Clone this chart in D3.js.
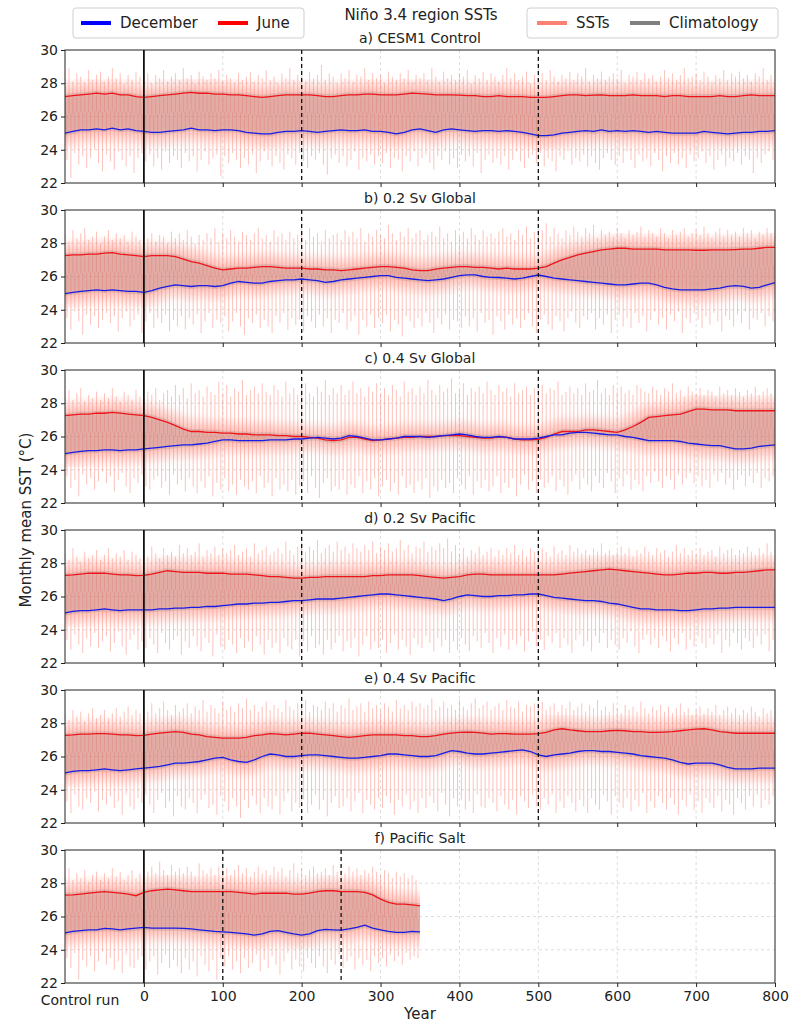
<!DOCTYPE html>
<html>
<head>
<meta charset="utf-8">
<script src="https://cdn.jsdelivr.net/npm/d3@7"></script>
<style>
  body { margin: 0; background: #fff; }
  svg { display: block; }
  text { font-family: "DejaVu Sans", sans-serif; fill: #222; }
</style>
</head>
<body>
<svg id="chart" width="802" height="1024"></svg>
<script>
// ---- Time axes (model years; negative years = control run) ----
const years10 = d3.range(-100, 801, 10);   // climatology sampling
const years5 = d3.range(-100, 800, 5);     // SST extreme sampling

const panelTitles = ["a) CESM1 Control", "b) 0.2 Sv Global", "c) 0.4 Sv Global",
                     "d) 0.2 Sv Pacific", "e) 0.4 Sv Pacific", "f) Pacific Salt"];
const yTickValues = [22, 24, 26, 28, 30];
const xTickValues = [0, 100, 200, 300, 400, 500, 600, 700, 800];
const xGridValues = [100, 200, 300, 400, 500, 600, 700];

// Event markers: first = start of hosing (solid), rest = dashed
const marksA = [0, 200, 500], marksB = [0, 200, 500], marksC = [0, 200, 500];
const marksD = [0, 200, 500], marksE = [0, 200, 500], marksF = [0, 100, 250];

// ---- a) CESM1 Control ----
const junA = [27.2,27.25,27.3,27.35,27.4,27.35,27.4,27.3,27.3,27.2,
  27.15,27.2,27.25,27.3,27.35,27.4,27.45,27.4,27.4,27.35,
  27.35,27.3,27.3,27.25,27.2,27.15,27.2,27.25,27.3,27.3,
  27.3,27.3,27.25,27.2,27.2,27.25,27.3,27.3,27.35,27.35,
  27.3,27.3,27.3,27.35,27.4,27.38,27.35,27.3,27.3,27.3,
  27.28,27.25,27.25,27.2,27.2,27.25,27.2,27.2,27.2,27.15,
  27.15,27.15,27.2,27.25,27.3,27.3,27.25,27.28,27.3,27.25,
  27.25,27.25,27.3,27.25,27.25,27.25,27.2,27.25,27.25,27.2,
  27.2,27.2,27.2,27.25,27.2,27.2,27.25,27.3,27.25,27.25,
  27.25];
const decA = [25.0,25.1,25.2,25.2,25.25,25.2,25.3,25.2,25.25,25.15,
  25.1,25.05,25.05,25.1,25.15,25.2,25.3,25.2,25.2,25.15,
  25.2,25.2,25.15,25.05,25.0,24.95,24.95,25.05,25.1,25.1,
  25.15,25.1,25.05,25.1,25.15,25.2,25.15,25.15,25.2,25.1,
  25.1,25.05,24.95,25.05,25.2,25.25,25.15,25.05,25.2,25.25,
  25.2,25.15,25.1,25.15,25.15,25.1,25.15,25.1,25.05,24.95,
  24.85,24.85,24.9,25.0,25.05,25.1,25.15,25.1,25.2,25.1,
  25.15,25.1,25.15,25.1,25.05,25.1,25.05,25.0,25.0,25.0,
  25.0,25.1,25.05,25.0,24.95,25.0,25.05,25.05,25.1,25.1,
  25.15];
const hiA = [28.3,28.9,28.1,28.6,28.4,28.0,28.8,28.2,28.5,28.7,
  28.1,28.4,28.9,28.3,28.6,28.0,28.5,28.2,28.7,28.4,
  28.2,28.6,28.0,28.5,28.3,28.8,28.1,28.4,28.6,28.2,
  28.9,28.3,28.5,28.0,28.7,28.4,28.2,28.6,28.3,28.8,
  28.1,28.5,28.3,28.0,28.6,28.2,28.4,28.7,28.1,28.5,
  28.3,28.8,28.2,28.4,28.0,28.6,28.3,28.9,28.2,28.5,
  28.4,28.1,28.7,28.3,28.5,29.1,28.2,28.6,28.4,28.0,
  28.6,28.3,28.8,28.1,28.5,28.4,28.9,28.2,28.6,28.3,
  28.5,28.0,28.7,28.4,28.2,28.6,28.3,28.8,28.1,28.5,
  28.3,28.6,28.2,28.9,28.4,28.1,28.7,28.3,28.5,28.2,
  28.6,28.4,28.8,28.0,28.5,28.3,28.7,28.2,28.6,28.4,
  28.1,28.5,28.9,28.3,28.6,28.2,28.4,28.7,28.0,28.5,
  28.3,28.6,28.2,28.8,28.4,28.1,28.5,28.3,28.7,28.2,
  28.6,28.4,28.9,28.1,28.5,28.3,28.7,28.2,28.4,28.6,
  28.3,28.8,28.0,28.5,28.4,28.7,28.2,28.6,28.3,28.5,
  28.1,28.4,28.8,28.3,28.6,28.2,28.5,28.9,28.3,28.4,
  28.6,28.2,28.7,28.4,28.1,28.5,28.3,28.8,28.2,28.6,
  28.4,28.7,28.3,28.5,28.1,28.6,28.4,28.9,28.2,28.5];
const loA = [23.4,22.3,23.8,23.1,23.6,22.9,23.5,24.0,23.2,22.7,
  23.7,23.3,22.8,23.9,23.4,23.0,23.6,22.6,23.5,23.8,
  23.3,23.7,23.0,23.5,22.8,23.9,23.2,23.6,23.4,22.9,
  23.8,23.3,23.6,22.7,23.4,23.9,23.1,23.5,23.7,22.4,
  23.6,23.2,23.8,23.4,22.9,23.5,23.1,23.7,22.6,23.3,
  23.9,23.4,23.0,23.6,23.2,22.8,23.7,23.5,23.1,23.8,
  23.3,22.9,23.6,23.4,23.8,23.1,22.5,23.5,23.7,23.2,
  23.6,23.0,23.4,23.9,22.8,23.5,23.3,23.7,23.1,23.6,
  23.2,23.8,22.9,23.5,23.4,22.7,23.6,23.3,23.9,23.0,
  23.5,23.7,23.2,22.8,23.6,23.4,23.9,23.1,23.5,22.9,
  23.7,23.3,23.6,23.0,23.8,22.6,23.4,23.7,23.2,23.5,
  23.1,23.6,22.8,23.4,23.9,23.3,22.9,23.5,23.7,23.2,
  23.8,23.0,23.5,23.3,22.7,23.6,23.4,23.9,23.1,23.5,
  23.3,23.7,23.0,23.6,23.2,22.8,23.5,23.8,23.4,23.1,
  23.6,23.2,23.9,23.4,22.9,23.7,23.3,23.5,23.0,23.8,
  23.4,22.7,23.6,23.2,23.8,23.1,23.5,22.9,23.7,23.3,
  23.5,23.9,23.2,23.6,22.8,23.4,23.7,23.0,23.5,23.3,
  23.8,23.1,23.6,23.4,22.6,23.5,23.2,23.7,23.9,23.4];

// ---- b) 0.2 Sv Global ----
const junB = [27.25,27.3,27.3,27.35,27.35,27.4,27.43,27.35,27.3,27.25,
  27.2,27.25,27.25,27.25,27.2,27.05,26.9,26.8,26.65,26.5,
  26.4,26.45,26.5,26.5,26.55,26.6,26.6,26.55,26.5,26.5,
  26.5,26.45,26.45,26.4,26.4,26.35,26.4,26.45,26.5,26.55,
  26.6,26.6,26.55,26.5,26.4,26.35,26.35,26.45,26.5,26.55,
  26.6,26.6,26.55,26.55,26.5,26.45,26.5,26.45,26.45,26.45,
  26.5,26.6,26.8,27.0,27.15,27.3,27.4,27.5,27.6,27.65,
  27.7,27.7,27.65,27.65,27.65,27.65,27.6,27.6,27.6,27.6,
  27.58,27.58,27.6,27.6,27.6,27.62,27.65,27.65,27.7,27.75,
  27.75];
const decB = [24.97,25.05,25.1,25.15,25.2,25.15,25.2,25.15,25.1,25.1,
  25.05,25.15,25.3,25.4,25.5,25.45,25.4,25.45,25.45,25.4,
  25.45,25.6,25.7,25.65,25.6,25.6,25.7,25.75,25.8,25.8,
  25.85,25.8,25.75,25.65,25.7,25.8,25.85,25.9,25.95,26.0,
  26.05,26.05,25.95,25.9,25.85,25.8,25.75,25.8,25.85,25.95,
  26.05,26.1,26.1,26.0,25.95,25.94,25.9,25.85,25.9,26.0,
  26.09,26.0,25.9,25.85,25.8,25.75,25.7,25.65,25.6,25.55,
  25.5,25.5,25.55,25.6,25.6,25.5,25.35,25.25,25.2,25.2,
  25.2,25.2,25.25,25.3,25.4,25.45,25.4,25.3,25.35,25.5,
  25.63];
const hiB = [28.5,28.1,28.8,28.3,28.6,28.9,28.2,28.4,28.7,28.0,
  28.4,28.8,28.2,28.6,28.3,28.5,28.1,28.7,28.4,28.2,
  28.9,28.3,28.6,28.1,28.5,28.4,28.0,28.7,28.3,28.6,
  28.2,28.8,28.4,28.0,28.5,28.2,28.6,28.3,28.9,28.1,
  28.6,28.3,28.8,28.4,28.1,28.7,28.5,28.2,28.6,28.9,
  28.3,28.5,28.1,28.8,28.4,28.6,28.2,28.7,28.3,28.5,
  28.7,28.2,28.9,28.4,28.6,28.1,28.8,28.3,28.5,28.6,
  28.2,28.8,28.4,28.7,28.3,28.9,28.1,28.6,28.4,28.8,
  28.5,28.3,29.1,28.6,28.2,28.7,28.4,28.9,28.3,28.6,
  28.8,28.2,28.5,28.7,28.4,29.0,28.3,28.6,28.1,28.8,
  28.4,28.7,28.3,28.9,28.5,28.2,28.8,28.4,28.6,28.3,
  28.7,28.9,28.4,28.6,28.2,28.8,28.5,29.0,28.3,28.7,
  28.5,28.8,29.2,28.4,28.9,28.6,28.3,28.8,28.5,29.0,
  28.7,28.4,28.9,28.6,29.1,28.3,28.8,28.5,28.7,28.4,
  28.9,28.6,28.3,28.8,28.5,28.7,29.0,28.4,28.8,28.6,
  28.4,28.9,28.6,28.3,28.8,28.5,28.7,28.9,28.4,28.6,
  28.8,28.5,29.0,28.6,28.3,28.7,28.9,28.4,28.8,28.5,
  28.7,28.4,28.9,28.6,28.8,28.3,28.7,28.5,28.9,28.6];
const loB = [23.5,22.8,23.9,23.3,22.5,23.7,23.1,23.6,22.9,23.4,
  23.8,23.2,23.6,22.7,23.5,23.9,23.0,23.4,23.7,22.6,
  23.3,23.8,22.9,23.5,23.2,23.7,22.7,23.4,23.0,23.6,
  22.8,23.5,23.1,23.7,22.6,23.3,23.8,22.9,23.4,23.2,
  23.6,22.7,23.3,23.8,23.0,22.5,23.5,23.2,23.7,22.9,
  23.4,23.0,22.6,23.6,23.2,23.8,22.8,23.5,23.1,23.4,
  22.7,23.6,23.3,22.9,23.7,23.0,23.5,22.6,23.4,23.2,
  23.8,22.8,23.3,23.6,22.5,23.4,23.0,23.7,22.9,23.5,
  23.2,23.7,22.7,23.4,23.1,22.4,23.6,23.3,22.9,23.5,
  23.0,23.8,23.2,22.6,23.5,23.1,23.7,22.8,23.4,23.3,
  22.9,23.6,23.0,23.5,22.7,23.8,23.2,23.4,22.5,23.6,
  23.3,22.8,23.7,23.1,23.5,22.9,23.4,23.8,23.0,22.6,
  23.4,23.7,23.1,22.8,23.6,23.3,22.7,23.5,23.9,23.2,
  22.9,23.6,23.4,23.8,22.8,23.5,23.1,23.7,22.6,23.4,
  23.7,23.0,23.5,22.9,23.8,23.2,23.6,22.7,23.4,23.9,
  23.1,23.5,22.8,23.7,23.3,23.9,22.6,23.5,23.2,23.8,
  23.4,22.9,23.6,23.1,23.8,23.3,22.7,23.6,23.4,23.0,
  23.7,23.2,23.9,22.8,23.5,23.4,23.8,23.0,23.6,23.3];

// ---- c) 0.4 Sv Global ----
const junC = [27.25,27.3,27.35,27.35,27.4,27.4,27.45,27.4,27.35,27.3,
  27.25,27.15,27.0,26.85,26.65,26.45,26.3,26.3,26.25,26.25,
  26.2,26.2,26.15,26.15,26.1,26.1,26.1,26.05,26.05,26.0,
  26.0,25.95,25.9,25.8,25.75,25.8,25.95,25.95,25.85,25.75,
  25.8,25.85,25.9,25.95,25.95,26.0,26.0,26.0,26.05,26.05,
  26.05,26.0,25.95,25.9,25.9,25.98,25.95,25.85,25.8,25.8,
  25.83,25.95,26.15,26.3,26.3,26.3,26.4,26.4,26.35,26.3,
  26.25,26.4,26.6,26.85,27.15,27.2,27.25,27.3,27.35,27.5,
  27.65,27.65,27.6,27.6,27.6,27.55,27.55,27.55,27.55,27.55,
  27.55];
const decC = [24.97,25.05,25.1,25.15,25.15,25.2,25.2,25.15,25.2,25.2,
  25.25,25.3,25.35,25.4,25.45,25.5,25.5,25.55,25.6,25.7,
  25.8,25.8,25.75,25.75,25.75,25.75,25.8,25.8,25.8,25.85,
  25.85,25.9,25.95,25.9,25.85,25.9,26.05,26.0,25.9,25.8,
  25.8,25.85,25.9,26.0,26.0,26.0,25.95,26.0,26.05,26.1,
  26.15,26.1,26.0,25.95,25.95,26.0,25.95,25.85,25.85,25.85,
  25.9,26.0,26.1,26.1,26.2,26.25,26.25,26.2,26.15,26.1,
  26.1,26.0,25.95,25.85,25.75,25.75,25.75,25.75,25.7,25.6,
  25.55,25.5,25.45,25.45,25.35,25.25,25.25,25.3,25.4,25.45,
  25.5];
const hiC = [28.4,28.8,28.2,28.6,28.9,28.1,28.5,28.3,28.7,28.2,
  28.6,28.3,28.9,28.4,28.1,28.7,28.5,28.2,28.8,28.4,
  28.3,28.7,28.5,28.9,28.2,28.6,28.8,28.4,29.1,28.5,
  28.9,28.3,29.2,28.6,28.8,28.4,29.0,28.7,28.5,29.3,
  28.6,29.1,28.4,28.9,28.7,29.4,28.5,28.8,29.0,28.6,
  29.2,28.7,28.5,29.1,28.8,28.4,29.3,28.6,28.9,28.5,
  28.8,29.2,28.6,28.4,29.0,28.7,29.4,28.5,28.9,28.6,
  29.1,28.5,28.8,29.3,28.6,28.9,28.4,29.0,28.7,29.2,
  28.6,28.9,28.5,29.1,28.8,28.4,29.3,28.7,28.9,28.5,
  29.0,28.6,29.4,28.8,28.5,29.1,28.7,28.9,29.5,28.6,
  28.8,29.2,28.5,28.9,28.7,29.0,28.6,29.3,28.8,28.5,
  29.1,28.7,28.9,28.4,29.2,28.6,28.8,29.0,28.5,28.9,
  28.7,29.1,28.6,28.9,28.8,29.3,28.5,28.7,29.0,28.6,
  28.9,28.5,29.2,28.7,28.8,29.4,28.6,28.9,28.5,29.1,
  28.7,29.0,28.6,28.8,28.5,29.1,28.9,28.7,28.6,29.0,
  28.8,28.5,28.9,28.7,29.2,28.6,28.8,28.4,29.0,28.7,
  28.6,28.9,28.5,28.8,28.7,28.4,29.0,28.6,28.8,28.5,
  28.9,28.7,28.4,28.8,28.6,29.0,28.5,28.7,28.9,28.6];
const loC = [23.6,22.9,23.4,22.4,23.7,23.1,23.5,22.8,23.3,23.9,
  23.2,23.6,22.7,23.4,23.8,23.0,22.6,23.5,23.2,23.7,
  23.0,22.8,23.4,23.6,22.9,23.3,22.5,23.7,23.1,23.4,
  22.7,23.5,23.0,22.6,23.3,22.9,23.6,22.4,23.2,22.8,
  23.5,22.7,23.1,22.5,23.4,23.0,22.8,23.3,22.6,23.6,
  22.9,23.2,22.4,23.5,22.8,23.1,22.7,23.4,22.5,23.0,
  23.3,22.6,23.6,22.9,22.3,23.2,23.5,22.7,23.0,22.8,
  23.4,22.5,23.1,22.9,23.6,22.6,23.3,22.8,23.5,22.4,
  23.0,23.4,22.7,23.2,22.5,23.6,22.9,23.1,22.6,23.3,
  22.8,23.5,22.3,23.0,22.7,23.4,22.9,23.2,22.6,23.5,
  23.1,22.8,23.6,22.5,23.3,22.9,23.4,22.7,23.0,23.6,
  22.6,23.2,22.9,23.5,22.4,23.1,23.7,22.8,23.3,22.6,
  23.4,22.9,23.2,23.6,22.7,23.4,23.0,22.5,23.3,23.7,
  22.8,23.5,23.1,22.7,23.6,23.2,22.9,23.8,23.3,22.6,
  23.5,23.0,23.7,22.8,23.4,23.1,22.7,23.6,23.2,23.9,
  23.3,22.9,23.6,23.4,22.8,23.7,23.1,23.5,23.8,23.2,
  23.6,23.0,23.4,22.9,23.7,23.3,23.8,23.1,23.5,22.8,
  23.4,23.7,23.0,23.6,23.2,23.8,22.9,23.5,23.3,23.6];

// ---- d) 0.2 Sv Pacific ----
const junD = [27.27,27.3,27.35,27.4,27.4,27.4,27.35,27.3,27.3,27.25,
  27.27,27.35,27.45,27.55,27.5,27.45,27.45,27.45,27.4,27.4,
  27.4,27.35,27.35,27.35,27.3,27.25,27.2,27.2,27.15,27.1,
  27.1,27.15,27.15,27.2,27.2,27.2,27.2,27.2,27.2,27.25,
  27.25,27.3,27.3,27.3,27.3,27.25,27.2,27.15,27.1,27.15,
  27.2,27.3,27.35,27.35,27.3,27.3,27.3,27.3,27.3,27.3,
  27.3,27.3,27.3,27.35,27.4,27.45,27.5,27.55,27.6,27.65,
  27.6,27.55,27.5,27.45,27.4,27.35,27.3,27.3,27.35,27.4,
  27.4,27.45,27.45,27.4,27.4,27.45,27.45,27.5,27.55,27.6,
  27.6];
const decD = [25.01,25.1,25.15,25.15,25.2,25.25,25.2,25.15,25.2,25.2,
  25.2,25.2,25.25,25.25,25.3,25.3,25.35,25.35,25.4,25.4,
  25.45,25.5,25.55,25.55,25.6,25.6,25.65,25.65,25.7,25.75,
  25.75,25.8,25.85,25.85,25.85,25.9,25.95,26.0,26.05,26.1,
  26.15,26.15,26.1,26.05,26.0,25.95,25.9,25.85,25.75,25.85,
  26.0,26.1,26.05,26.0,26.0,26.05,26.05,26.1,26.1,26.15,
  26.15,26.05,25.95,25.9,25.85,25.8,25.75,25.75,25.7,25.6,
  25.55,25.45,25.35,25.25,25.25,25.2,25.2,25.2,25.15,25.15,
  25.2,25.25,25.25,25.3,25.3,25.35,25.35,25.35,25.35,25.35,
  25.35];
const hiD = [28.6,28.2,28.9,28.4,28.1,28.7,28.3,28.5,28.8,28.2,
  28.5,28.9,28.3,28.6,28.4,28.8,28.2,28.7,28.5,28.3,
  28.8,28.4,29.0,28.6,28.3,28.9,28.5,28.7,28.4,29.1,
  28.6,28.9,28.5,28.7,29.2,28.4,28.8,28.6,29.0,28.5,
  28.9,28.6,28.8,29.1,28.5,28.7,28.9,28.4,29.2,28.6,
  28.8,29.0,28.5,28.7,28.9,28.6,29.3,28.8,28.5,29.0,
  29.2,28.7,29.0,28.8,29.4,28.6,28.9,29.1,28.7,29.3,
  28.8,29.0,28.6,29.2,28.9,28.7,29.1,28.8,29.3,28.6,
  29.0,28.8,29.2,28.7,28.9,29.4,28.8,29.1,28.6,29.0,
  28.9,29.3,28.7,29.0,28.8,29.2,28.9,29.5,28.7,29.1,
  28.6,28.9,28.4,28.8,28.6,29.0,28.5,28.7,28.9,28.4,
  28.8,28.5,28.9,28.6,29.1,28.5,28.8,28.4,28.9,28.7,
  28.5,28.9,28.7,28.4,29.0,28.6,28.8,28.5,29.1,28.7,
  28.9,28.6,28.8,28.5,28.9,28.7,29.2,28.6,28.8,28.5,
  28.7,29.0,28.6,28.9,28.4,28.8,28.6,29.0,28.7,28.5,
  28.9,28.6,28.8,28.4,28.7,29.1,28.6,28.9,28.5,28.8,
  28.6,28.9,28.5,28.7,28.8,28.4,29.0,28.6,28.8,28.9,
  28.5,28.8,28.6,29.0,28.7,28.5,28.9,28.6,29.2,28.7];
const loD = [23.4,22.8,23.7,23.1,22.6,23.5,23.0,23.8,22.9,23.3,
  23.6,22.7,23.2,23.9,23.0,22.5,23.4,23.7,22.8,23.3,
  22.9,23.5,23.1,22.6,23.8,23.2,22.8,23.4,23.6,22.5,
  23.3,22.9,23.6,23.0,22.7,23.5,23.2,22.4,23.7,23.0,
  22.8,23.4,23.1,22.6,23.5,22.9,23.3,22.7,23.6,23.1,
  22.5,23.4,22.9,23.2,22.6,23.5,23.0,22.8,23.4,22.4,
  23.3,22.7,23.6,22.9,23.1,22.5,23.4,22.8,23.2,23.6,
  22.7,23.3,22.9,23.5,22.4,23.1,23.6,22.8,23.3,22.9,
  23.4,22.6,23.2,23.7,22.8,23.4,23.0,22.5,23.5,23.1,
  22.9,23.6,23.2,22.7,23.5,23.0,23.4,22.6,23.3,22.8,
  23.5,23.1,22.7,23.6,23.3,22.9,23.8,23.2,22.6,23.5,
  23.0,23.7,22.8,23.4,23.1,23.6,22.7,23.3,23.9,23.0,
  23.4,22.8,23.6,23.2,23.8,22.9,23.5,23.1,22.6,23.4,
  23.7,23.0,23.3,22.7,23.6,23.2,23.8,22.9,23.4,23.1,
  22.8,23.5,23.2,23.9,23.0,22.6,23.4,23.7,23.1,23.5,
  22.9,23.6,23.3,22.7,23.5,23.1,23.8,22.8,23.4,23.0,
  23.6,23.2,22.9,23.5,23.1,23.7,22.6,23.4,23.0,23.8,
  23.2,22.8,23.5,23.3,22.9,23.6,23.1,23.7,22.7,23.4];

// ---- e) 0.4 Sv Pacific ----
const junE = [27.27,27.3,27.35,27.35,27.37,27.37,27.35,27.3,27.3,27.25,
  27.27,27.35,27.4,27.45,27.5,27.45,27.35,27.3,27.2,27.15,
  27.1,27.1,27.1,27.15,27.25,27.3,27.37,27.35,27.3,27.35,
  27.4,27.4,27.35,27.3,27.25,27.2,27.15,27.2,27.25,27.3,
  27.3,27.3,27.3,27.25,27.25,27.2,27.2,27.25,27.35,27.4,
  27.45,27.47,27.45,27.4,27.35,27.37,27.37,27.35,27.35,27.35,
  27.37,27.45,27.6,27.67,27.6,27.55,27.5,27.5,27.5,27.55,
  27.57,27.55,27.5,27.5,27.45,27.45,27.47,27.5,27.55,27.6,
  27.65,27.67,27.6,27.5,27.45,27.4,27.4,27.4,27.4,27.4,
  27.4];
const decE = [25.01,25.1,25.15,25.15,25.2,25.25,25.2,25.15,25.2,25.25,
  25.3,25.35,25.4,25.5,25.6,25.6,25.65,25.7,25.8,25.9,
  25.95,25.8,25.7,25.65,25.8,26.0,26.15,26.1,26.0,26.0,
  26.05,26.1,26.1,26.05,26.0,25.95,25.9,25.9,25.95,26.0,
  26.05,26.15,26.15,26.1,26.05,26.0,26.0,26.05,26.2,26.35,
  26.3,26.2,26.15,26.15,26.2,26.25,26.3,26.35,26.4,26.3,
  26.1,26.0,26.1,26.15,26.2,26.3,26.35,26.35,26.3,26.3,
  26.25,26.2,26.15,26.05,26.0,25.95,25.9,25.8,25.65,25.55,
  25.6,25.6,25.6,25.5,25.35,25.25,25.25,25.25,25.3,25.3,
  25.3];
const hiE = [28.5,28.2,28.8,28.4,28.7,28.1,28.6,28.9,28.3,28.5,
  28.8,28.3,28.6,28.9,28.4,28.7,29.0,28.5,28.8,28.6,
  29.0,28.7,29.2,28.6,28.9,29.3,28.8,28.5,29.1,28.7,
  28.9,29.2,28.6,29.0,28.8,29.4,28.7,29.1,28.9,28.6,
  29.3,28.8,29.0,28.7,29.2,28.9,29.5,28.8,29.1,28.7,
  29.0,29.3,28.8,29.1,28.9,28.7,29.4,29.0,28.8,29.2,
  28.9,29.4,28.7,29.1,29.0,28.8,29.3,28.9,29.2,28.7,
  29.1,28.9,29.5,28.8,29.0,29.2,28.7,29.3,28.9,29.1,
  28.8,29.2,29.0,28.7,29.4,28.9,29.1,28.8,29.3,29.0,
  29.2,28.9,29.1,29.5,28.8,29.0,29.3,28.9,29.1,28.8,
  29.4,29.0,28.8,29.2,29.5,28.9,29.1,29.3,28.8,29.0,
  29.2,28.8,29.4,29.0,28.9,29.3,28.7,29.1,29.0,29.2,
  28.9,29.3,28.8,29.0,29.2,28.7,29.1,28.9,29.3,28.8,
  29.0,29.2,28.7,29.1,28.9,29.4,28.8,29.0,28.7,29.2,
  28.9,28.6,29.1,28.8,29.0,28.7,29.3,28.9,28.6,29.0,
  28.8,29.1,28.7,29.0,28.6,28.9,29.2,28.7,28.9,28.5,
  28.8,29.0,28.6,28.9,28.7,29.1,28.5,28.8,29.0,28.6,
  28.9,28.5,28.8,28.6,29.0,28.7,28.4,28.9,28.6,28.8];
const loE = [23.3,22.6,23.7,23.0,22.8,23.5,23.2,23.9,22.7,23.4,
  23.1,23.6,22.9,23.3,22.5,23.7,23.0,22.8,23.5,23.2,
  23.7,23.1,22.6,23.4,23.8,22.9,23.3,22.4,23.6,23.0,
  22.8,23.5,23.2,22.6,23.4,23.7,22.9,23.1,22.5,23.6,
  23.3,22.7,23.5,23.0,22.3,23.4,22.9,23.6,23.1,22.6,
  23.5,23.0,22.8,23.6,22.5,23.3,23.8,22.7,23.2,22.9,
  23.4,22.6,23.1,23.7,22.8,23.4,22.4,23.2,23.6,22.9,
  23.0,23.5,22.7,23.3,23.8,22.6,23.4,23.1,22.8,23.5,
  22.9,23.6,23.2,22.5,23.4,23.0,23.7,22.8,23.3,22.6,
  23.5,22.9,23.6,23.2,22.7,23.8,23.1,22.4,23.5,23.0,
  23.4,22.8,23.3,22.6,23.7,23.0,22.9,23.5,23.2,22.7,
  23.6,23.1,22.8,23.4,22.5,23.6,23.3,22.9,23.7,23.0,
  22.8,23.5,23.1,23.7,22.6,23.3,22.9,23.6,23.2,22.7,
  23.4,23.0,22.6,23.5,23.1,22.8,23.7,23.3,22.5,23.6,
  23.2,22.9,23.5,22.7,23.4,23.0,23.8,22.6,23.3,22.9,
  23.6,23.2,22.8,23.5,23.1,22.5,23.4,23.0,23.7,22.8,
  23.3,22.6,23.5,23.2,22.9,23.6,22.7,23.4,23.1,22.5,
  23.5,23.2,22.8,23.6,23.0,23.7,22.9,23.4,23.1,23.6];

// ---- f) Pacific Salt (run ends at year 350) ----
const junF = [27.29,27.3,27.35,27.4,27.45,27.5,27.45,27.4,27.35,27.25,
  27.45,27.55,27.6,27.65,27.6,27.55,27.5,27.5,27.5,27.5,
  27.5,27.5,27.45,27.4,27.35,27.4,27.4,27.4,27.4,27.35,
  27.35,27.4,27.5,27.55,27.55,27.5,27.5,27.5,27.45,27.3,
  27.05,26.85,26.75,26.75,26.7,26.64];
const decF = [25.02,25.1,25.15,25.2,25.2,25.28,25.25,25.2,25.25,25.3,
  25.34,25.3,25.3,25.3,25.3,25.28,25.25,25.2,25.15,25.1,
  25.08,25.05,25.0,24.95,24.88,24.95,25.1,25.15,25.05,24.95,
  24.88,24.95,25.15,25.22,25.2,25.18,25.25,25.35,25.48,25.3,
  25.2,25.1,25.05,25.05,25.1,25.08];
const hiF = [28.4,28.9,28.2,28.6,28.3,28.8,28.1,28.5,28.7,28.2,
  28.6,28.3,28.9,28.4,28.7,28.2,28.5,28.8,28.3,28.6,
  29.2,28.7,29.0,28.6,29.3,28.8,28.5,29.1,28.7,28.9,
  28.6,29.0,28.7,28.4,29.2,28.8,28.6,28.9,28.5,29.0,
  28.7,28.9,28.5,28.8,29.1,28.6,28.9,28.4,28.7,29.0,
  28.6,28.8,28.5,29.0,28.7,28.9,28.4,28.8,29.2,28.6,
  28.9,28.5,28.8,29.0,28.6,28.7,28.9,28.5,29.1,28.7,
  28.8,28.6,29.0,28.7,28.9,28.5,28.8,28.6,29.0,28.7,
  28.5,28.8,28.6,28.3,28.7,28.4,28.6,28.3,28.5,28.2];
const loF = [23.5,22.9,23.8,22.2,23.4,23.0,23.6,22.7,23.3,23.9,
  23.1,23.5,22.8,23.3,22.6,23.7,23.0,22.9,23.4,23.6,
  22.8,23.3,23.6,22.5,23.2,23.7,22.9,23.4,23.0,22.6,
  23.5,22.8,23.3,22.4,23.6,23.1,22.7,23.4,22.2,23.5,
  23.0,23.6,22.8,23.3,22.6,23.5,22.9,23.2,23.7,22.7,
  23.4,22.9,23.6,23.1,22.5,23.3,23.8,22.8,23.4,23.0,
  22.7,23.5,23.2,22.9,23.6,23.0,22.6,23.4,23.1,23.7,
  22.9,23.3,23.6,22.8,23.5,23.1,23.4,22.7,23.6,23.2,
  23.5,23.0,23.7,23.3,23.6,23.1,23.8,23.4,23.6,23.5];

// ---- Colours ----
const SALMON = "#fa8072", GREY = "#808080", RED = "#f0141a", BLUE = "#1a1ae6";

const panels = [
  { title: panelTitles[0], jun: junA, dec: decA, hi: hiA, lo: loA, marks: marksA },
  { title: panelTitles[1], jun: junB, dec: decB, hi: hiB, lo: loB, marks: marksB },
  { title: panelTitles[2], jun: junC, dec: decC, hi: hiC, lo: loC, marks: marksC },
  { title: panelTitles[3], jun: junD, dec: decD, hi: hiD, lo: loD, marks: marksD },
  { title: panelTitles[4], jun: junE, dec: decE, hi: hiE, lo: loE, marks: marksE },
  { title: panelTitles[5], jun: junF, dec: decF, hi: hiF, lo: loF, marks: marksF }
];

// ---- Layout ----
const svg = d3.select("#chart");
svg.append("rect").attr("width", 802).attr("height", 1024).attr("fill", "#fff");
const plotLeft = 65, plotRight = 775, panelH = 133;
const panelTops = [50, 210, 370, 530, 690, 850];
const x = d3.scaleLinear().domain([-100, 800]).range([plotLeft, plotRight]);
const defs = svg.append("defs");

// Soft edge for the dense part of the SST cloud
defs.append("filter").attr("id", "soft").attr("x", "-5%").attr("y", "-30%")
  .attr("width", "110%").attr("height", "160%")
  .append("feGaussianBlur").attr("stdDeviation", 2.5);

panels.forEach((p, i) => {
  const top = panelTops[i];
  const y = d3.scaleLinear().domain([22, 30]).range([top + panelH, top]);
  const g = svg.append("g");

  // Grid
  const grid = g.append("g").attr("stroke", "#d4d4d4").attr("stroke-width", 0.8)
    .attr("stroke-dasharray", "3,3");
  grid.selectAll("line.gx").data(xGridValues).join("line")
    .attr("x1", d => x(d)).attr("x2", d => x(d)).attr("y1", top).attr("y2", top + panelH);
  grid.selectAll("line.gy").data([24, 26, 28]).join("line")
    .attr("x1", plotLeft).attr("x2", plotRight).attr("y1", d => y(d)).attr("y2", d => y(d));

  // Data clipped to the plotted span of the run
  const nClim = p.dec.length;
  const climYears = years10.slice(0, nClim);
  const lastYear = climYears[nClim - 1];
  const clipId = "clip" + i;
  defs.append("clipPath").attr("id", clipId).append("rect")
    .attr("x", plotLeft).attr("y", top).attr("width", x(lastYear) - plotLeft).attr("height", panelH);
  const clim = climYears.map((t, k) => ({ t: t, dec: p.dec[k], jun: p.jun[k] }));
  const band = d3.area().x(d => x(d.t)).y0(d => y(d.dec)).y1(d => y(d.jun));
  const dg = g.append("g").attr("clip-path", `url(#${clipId})`);

  // SSTs: dense seasonal band with a soft, fading edge
  const core = dg.append("g").attr("filter", "url(#soft)");
  [[30, 0.14], [20, 0.18], [10, 0.2], [0, 0.22]].forEach(([w, o]) => {
    core.append("path").attr("d", band(clim)).attr("fill", SALMON)
      .attr("stroke", w ? SALMON : "none").attr("stroke-width", w)
      .attr("stroke-linejoin", "round").attr("opacity", o);
  });

  // SSTs: warm and cold extremes
  const n = Math.min(p.hi.length, p.lo.length);
  const midAt = t => {
    const k = Math.max(0, Math.min(nClim - 1, Math.round((t + 100) / 10)));
    return (p.dec[k] + p.jun[k]) / 2;
  };
  const spikes = [];
  for (let k = 0; k < n; k++) {
    const t = years5[k];
    spikes.push({ t: t, v0: midAt(t), v1: p.hi[k] });
    spikes.push({ t: t + 2.5, v0: midAt(t + 2.5), v1: p.lo[k] });
  }
  dg.append("g").attr("stroke", SALMON).attr("stroke-width", 1).attr("opacity", 0.48)
    .selectAll("line").data(spikes).join("line")
    .attr("x1", d => x(d.t)).attr("x2", d => x(d.t))
    .attr("y1", d => y(d.v0)).attr("y2", d => y(d.v1));

  // Climatology envelope
  dg.append("path").attr("d", band(clim)).attr("fill", GREY).attr("stroke", GREY)
    .attr("stroke-width", 5).attr("stroke-linejoin", "round").attr("opacity", 0.2);

  // December and June climatology lines
  const lineOf = key => d3.line().x(d => x(d.t)).y(d => y(d[key]))(clim);
  dg.append("path").attr("d", lineOf("jun")).attr("fill", "none").attr("stroke", RED).attr("stroke-width", 1.3);
  dg.append("path").attr("d", lineOf("dec")).attr("fill", "none").attr("stroke", BLUE).attr("stroke-width", 1.3);

  // Event markers
  p.marks.forEach((m, j) => {
    g.append("line").attr("x1", x(m)).attr("x2", x(m)).attr("y1", top).attr("y2", top + panelH)
      .attr("stroke", "#111").attr("stroke-width", j === 0 ? 1.8 : 1.3)
      .attr("stroke-dasharray", j === 0 ? null : "4,3");
  });

  // Frame
  g.append("rect").attr("x", plotLeft).attr("y", top).attr("width", plotRight - plotLeft)
    .attr("height", panelH).attr("fill", "none").attr("stroke", "#222").attr("stroke-width", 1);

  // Axes
  const ya = g.append("g").attr("transform", `translate(${plotLeft},0)`)
    .call(d3.axisLeft(y).tickValues(yTickValues).tickSize(4).tickPadding(3).tickFormat(d3.format("d")));
  ya.select(".domain").remove();
  ya.selectAll("text").style("font-size", "14px").style("font-family", "DejaVu Sans, sans-serif").attr("fill", "#222");
  ya.selectAll("line").attr("stroke", "#222");

  const isLast = i === panels.length - 1;
  const xa = g.append("g").attr("transform", `translate(0,${top + panelH})`)
    .call(d3.axisBottom(x).tickValues(xTickValues).tickSize(4).tickPadding(4)
      .tickFormat(isLast ? d3.format("d") : () => ""));
  xa.select(".domain").remove();
  xa.selectAll("text").style("font-size", "14px").style("font-family", "DejaVu Sans, sans-serif").attr("fill", "#222");
  xa.selectAll("line").attr("stroke", "#222");

  // Panel title
  svg.append("text").attr("x", 420).attr("y", top - 7).attr("text-anchor", "middle")
    .style("font-size", "14px").text(p.title);
});

// Bottom-axis label for the control segment and axis titles
svg.append("text").attr("x", x(-100) + 15).attr("y", panelTops[5] + panelH + 22)
  .attr("text-anchor", "middle").style("font-size", "14px").text("Control run");
svg.append("text").attr("x", 420).attr("y", 1019).attr("text-anchor", "middle")
  .style("font-size", "15px").text("Year");
svg.append("text").attr("transform", "translate(31,520) rotate(-90)").attr("text-anchor", "middle")
  .style("font-size", "15px").text("Monthly mean SST (°C)");

// Figure title
svg.append("text").attr("x", 421).attr("y", 20).attr("text-anchor", "middle")
  .style("font-size", "15px").text("Niño 3.4 region SSTs");

// Legends
function legend(x0, w, items) {
  const lg = svg.append("g");
  lg.append("rect").attr("x", x0).attr("y", 8).attr("width", w).attr("height", 30).attr("rx", 3)
    .attr("fill", "#fff").attr("stroke", "#cfcfcf").attr("stroke-width", 1);
  items.forEach(it => {
    lg.append("line").attr("x1", it.lx).attr("x2", it.lx + 30).attr("y1", 23).attr("y2", 23)
      .attr("stroke", it.color).attr("stroke-width", 4);
    lg.append("text").attr("x", it.lx + 39).attr("y", 28).style("font-size", "15px").text(it.label);
  });
}
legend(73, 231, [{ lx: 81, color: "#0000ff", label: "December" }, { lx: 218, color: "#ff0000", label: "June" }]);
legend(527, 251, [{ lx: 537, color: SALMON, label: "SSTs" }, { lx: 630, color: GREY, label: "Climatology" }]);
</script>
</body>
</html>
